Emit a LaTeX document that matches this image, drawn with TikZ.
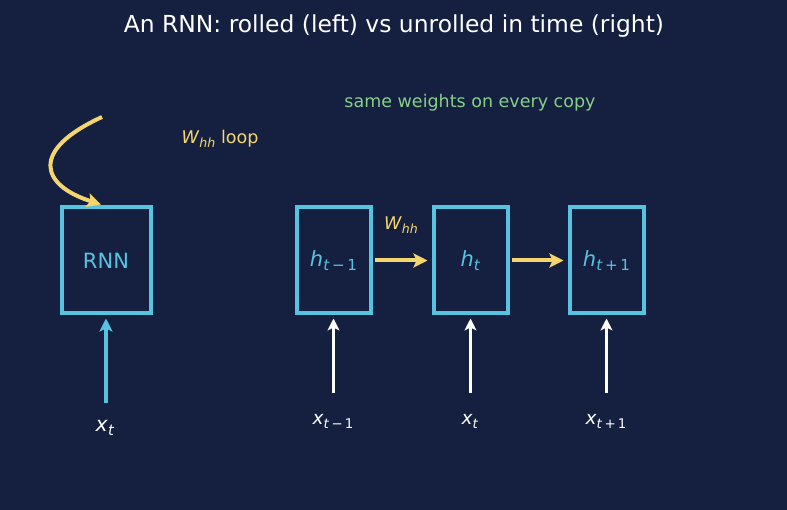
\documentclass[tikz,border=0pt]{standalone}
\usepackage{fontspec}
\setmainfont{DejaVu Sans}
\usetikzlibrary{arrows.meta}
\definecolor{bg}{HTML}{152040}
\definecolor{cy}{HTML}{56C3E0}
\definecolor{yl}{HTML}{F5D66E}
\definecolor{gr}{HTML}{86D08A}
\newcommand{\sub}[2]{\textit{#1}\raisebox{-0.22em}{\fontsize{0.72em}{0.72em}\selectfont #2}}
\tikzset{
  cell/.style={draw=cy, line width=4pt, inner sep=0pt, anchor=north west},
  yarrow/.style={draw=yl, line width=4pt, -{Stealth[length=14pt,width=14pt,inset=3pt]}},
  warrow/.style={draw=white, line width=3.2pt, -{Stealth[length=12pt,width=12pt,inset=3pt]}},
  carrow/.style={draw=cy, line width=4pt, -{Stealth[length=13pt,width=13pt,inset=3pt]}},
  celltext/.style={text=cy, font=\fontsize{21}{24}\selectfont},
  inlab/.style={text=white, font=\fontsize{18.5}{22}\selectfont}
}
\begin{document}
\begin{tikzpicture}[x=1pt,y=-1pt]
\fill[bg] (0,0) rectangle (787,510);
\useasboundingbox (0,0) rectangle (787,510);
\node[text=white, font=\fontsize{23.4}{26}\selectfont] (title) at (394,26) {An RNN: rolled (left) vs unrolled in time (right)};
\node[text=gr, font=\fontsize{17.5}{20}\selectfont] (note) at (470,103) {same weights on every copy};
% rolled
\node[cell, minimum width=89pt, minimum height=106pt] (rnn) at (59.5,205.5) {};
\node[celltext] (rnnt) at (rnn.center) {RNN};
\coordinate (loopstart) at (102,117);
\draw[yarrow] (loopstart) .. controls (30,150) and (40,185) .. ([xshift=-5pt,yshift=1pt]rnn.north);
\node[text=yl, font=\fontsize{17.5}{20}\selectfont] (looplab) at (220,139) {\sub{W}{\textit{hh}} loop};
\node[text=white, font=\fontsize{20.5}{23}\selectfont] (xt0) at (105,428) {\sub{x}{\textit{t}}};
\coordinate (xin0) at ([yshift=-87pt]rnn.south);
\draw[carrow] (xin0) -- ([yshift=-3pt]rnn.south);
% unrolled
\node[cell, minimum width=74pt, minimum height=106pt] (h1) at (294.5,205.5) {};
\node[cell, minimum width=74pt, minimum height=106pt] (h2) at (431.5,205.5) {};
\node[cell, minimum width=74pt, minimum height=106pt] (h3) at (567.5,205.5) {};
\node[celltext] at (h1.center) {\sub{h}{\textit{t}\,−\,1}};
\node[celltext] at (h2.center) {\sub{h}{\textit{t}}};
\node[celltext] at (h3.center) {\sub{h}{\textit{t}\,+\,1}};
\draw[yarrow] ([xshift=2pt]h1.east) -- ([xshift=-4pt]h2.west);
\draw[yarrow] ([xshift=2pt]h2.east) -- ([xshift=-4pt]h3.west);
\node[text=yl, font=\fontsize{17.5}{20}\selectfont] (wlab) at (401,225) {\sub{W}{\textit{hh}}};
\node[inlab] (x1) at (333,421) {\sub{x}{\textit{t}\,−\,1}};
\node[inlab] (x2) at (470,421) {\sub{x}{\textit{t}}};
\node[inlab] (x3) at (606,421) {\sub{x}{\textit{t}\,+\,1}};
\coordinate (xin1) at ([yshift=-78pt]h1.south);
\coordinate (xin2) at ([yshift=-78pt]h2.south);
\coordinate (xin3) at ([yshift=-78pt]h3.south);
\draw[warrow] (xin1) -- ([yshift=-3pt]h1.south);
\draw[warrow] (xin2) -- ([yshift=-3pt]h2.south);
\draw[warrow] (xin3) -- ([yshift=-3pt]h3.south);
\end{tikzpicture}
\end{document}
